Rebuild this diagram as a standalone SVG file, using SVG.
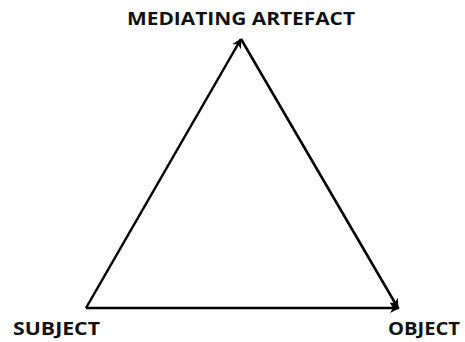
<svg xmlns="http://www.w3.org/2000/svg" width="465" height="342" viewBox="0 0 465 342">
<style>
.lbl{font-family:"Open Sans","Liberation Sans",sans-serif;font-weight:bold;font-size:18px;fill:#111}
.edge{stroke:#000;stroke-width:2.5;fill:none;marker-end:url(#ah)}
</style>
<defs>
<marker id="ah" viewBox="0 0 10 10" refX="9" refY="5" markerWidth="4" markerHeight="4" orient="auto" markerUnits="strokeWidth">
<path d="M0,0 L10,5 L0,10 L3,5 z" fill="#000"/>
</marker>
</defs>
<rect width="465" height="342" fill="#fff"/>
<g id="connectors">
<line class="edge" x1="86" y1="308" x2="241" y2="39"/>
<line class="edge" x1="241" y1="39" x2="398" y2="308"/>
<line class="edge" x1="86" y1="308" x2="399" y2="308"/>
</g>
<g id="mediating"><text class="lbl" x="241" y="25" text-anchor="middle" textLength="228" lengthAdjust="spacingAndGlyphs">MEDIATING ARTEFACT</text></g>
<g id="subject"><text class="lbl" x="13" y="335" textLength="87" lengthAdjust="spacingAndGlyphs">SUBJECT</text></g>
<g id="object"><text class="lbl" x="388" y="335" textLength="72" lengthAdjust="spacingAndGlyphs">OBJECT</text></g>
</svg>
